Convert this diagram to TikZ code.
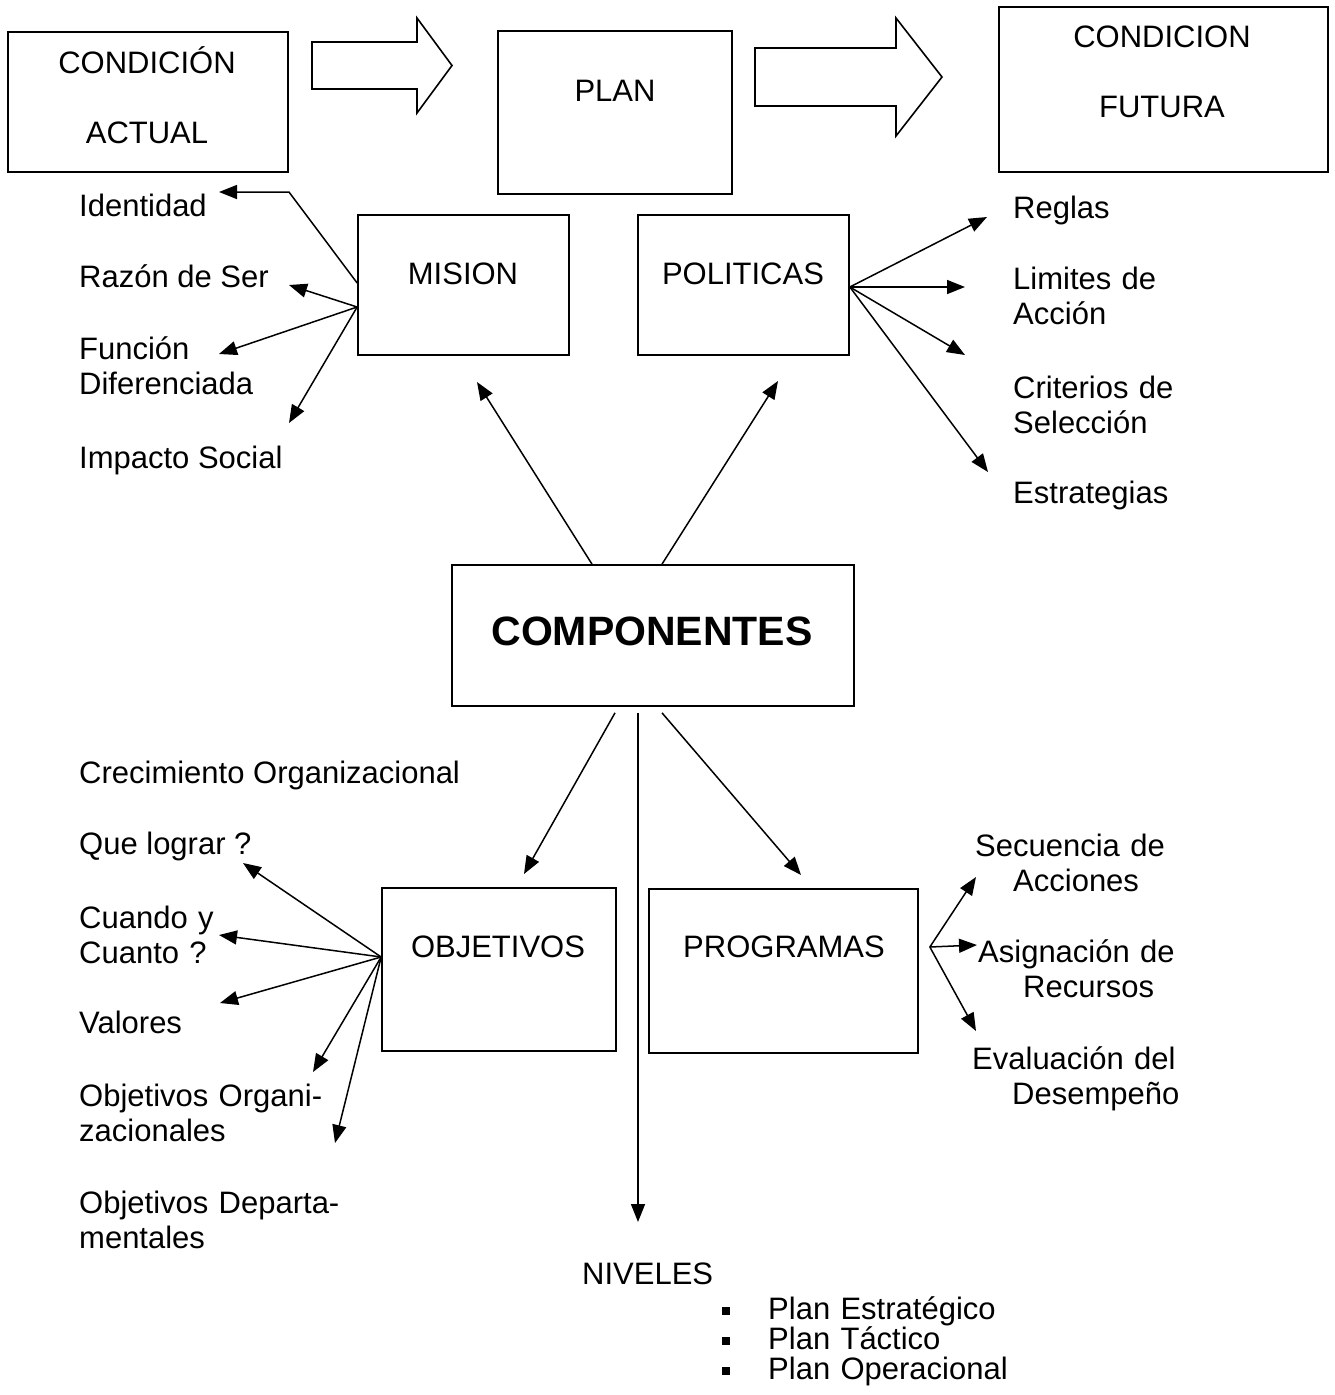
\documentclass[tikz,border=0pt]{standalone}
\usepackage{fontspec}
\setmainfont{Liberation Sans}
\usetikzlibrary{arrows.meta}
\begin{document}
\begin{tikzpicture}[x=1pt,y=-1pt,
  box/.style={draw,line width=1.7pt,inner sep=0pt},
  txt/.style={inner sep=0pt,font=\fontsize{31}{35}\selectfont},
  mtxt/.style={txt,text width=#1,align=left},
  ctxt/.style={inner sep=0pt,font=\fontsize{31}{70}\selectfont,text width=#1,align=center},
  con/.style={line width=1.5pt,-{Triangle[length=18pt,width=14pt]}},
  blk/.style={draw,line width=1.6pt,line join=miter,fill=white},
  bul/.style={txt,text width=330pt,align=left,font=\fontsize{31}{30}\selectfont}
]
\fill[white] (0,0) rectangle (1335,1395);
\useasboundingbox (0,0) rectangle (1335,1395);

% --- top row: current condition -> plan -> future condition
\node[box,minimum width=280pt,minimum height=140pt] (actual) at (148,102) {};
\node[ctxt=300pt,anchor=base] (actual-t) at (147,73) {CONDICIÓN\\ACTUAL};
\node[box,minimum width=234pt,minimum height=163pt] (plan) at (615,112.5) {};
\node[txt,anchor=base] (plan-t) at (615,101) {PLAN};
\node[box,minimum width=329pt,minimum height=165pt] (futura) at (1163.5,89.5) {};
\node[ctxt=320pt,anchor=base] (futura-t) at (1162,47) {CONDICION\\FUTURA};

\draw[blk] (312,42) -- (417,42) -- (417,18) -- (452,65.5) -- (417,113) -- (417,89) -- (312,89) -- cycle;
\draw[blk] (755,48) -- (896,48) -- (896,18) -- (942,77) -- (896,136) -- (896,106) -- (755,106) -- cycle;

% --- component boxes
\node[box,minimum width=211pt,minimum height=140pt] (mision) at (463.5,285) {};
\node[txt,anchor=base] (mision-t) at (463,284) {MISION};
\node[box,minimum width=211pt,minimum height=140pt] (politicas) at (743.5,285) {};
\node[txt,anchor=base] (politicas-t) at (743,284) {POLITICAS};
\node[box,minimum width=402pt,minimum height=141pt] (comp) at (653,635.5) {};
\node[inner sep=0pt,font=\fontsize{41}{48}\selectfont\bfseries,anchor=base] (comp-t) at (652,645) {COMPONENTES};
\node[box,minimum width=234pt,minimum height=163pt] (objetivos) at (499,969.5) {};
\node[txt,anchor=base] (objetivos-t) at (498,957) {OBJETIVOS};
\node[box,minimum width=269pt,minimum height=164pt] (programas) at (783.5,971) {};
\node[txt,anchor=base] (programas-t) at (784,957) {PROGRAMAS};

% --- mission items
\node[txt,anchor=base west] (identidad) at (79,216) {Identidad};
\node[txt,anchor=base west] (razon) at (79,287) {Razón de Ser};
\node[mtxt=260pt,anchor=base west] (funcion) at (79,359) {Función\\Diferenciada};
\node[txt,anchor=base west] (impacto) at (79,468) {Impacto Social};

\coordinate (id-bend) at (289,192);
\coordinate (id-end) at (219,192);
\coordinate (razon-end) at (289,285);
\coordinate (funcion-end) at (219,354);
\coordinate (impacto-end) at (289,423);
\coordinate (mis-out) at ([yshift=-22pt]mision.west);
\draw[con] ([yshift=2pt]mision.west) -- (id-bend) -- (id-end);
\draw[con] (mis-out) -- (razon-end);
\draw[con] (mis-out) -- (funcion-end);
\draw[con] (mis-out) -- (impacto-end);

% --- policy items
\node[txt,anchor=base west] (reglas) at (1013,218) {Reglas};
\node[mtxt=260pt,anchor=base west] (limites) at (1013,289) {Limites de\\Acción};
\node[mtxt=260pt,anchor=base west] (criterios) at (1013,398) {Criterios de\\Selección};
\node[txt,anchor=base west] (estrategias) at (1013,503) {Estrategias};

\coordinate (pol-out) at ([yshift=-2pt]politicas.east);
\coordinate (reglas-end) at (987,217);
\coordinate (limites-end) at (965,287);
\coordinate (criterios-end) at (965,355);
\coordinate (estrategias-end) at (988,472);
\draw[con] (pol-out) -- (reglas-end);
\draw[con] (pol-out) -- (limites-end);
\draw[con] (pol-out) -- (criterios-end);
\draw[con] (pol-out) -- (estrategias-end);

% --- links from the central box
\coordinate (mis-in) at (477,382);
\coordinate (pol-in) at (778,381);
\coordinate (obj-in) at (524,874);
\coordinate (prog-in) at (801,875);
\coordinate (niv-in) at (638,1222);
\draw[con] ([xshift=-61pt]comp.north) -- (mis-in);
\draw[con] ([xshift=9pt]comp.north) -- (pol-in);
\draw[con] ([xshift=-38pt,yshift=-6pt]comp.south) -- (obj-in);
\draw[con] ([xshift=-15pt,yshift=-6pt]comp.south) -- (niv-in);
\draw[con] ([xshift=9pt,yshift=-6pt]comp.south) -- (prog-in);

% --- objective items
\node[txt,anchor=base west] (crecimiento) at (79,783) {Crecimiento Organizacional};
\node[txt,anchor=base west] (lograr) at (79,854) {Que lograr ?};
\node[mtxt=260pt,anchor=base west] (cuando) at (79,928) {Cuando y\\Cuanto ?};
\node[txt,anchor=base west] (valores) at (79,1033) {Valores};
\node[mtxt=320pt,anchor=base west] (objorg) at (79,1106) {Objetivos Organi-\\zacionales};
\node[mtxt=320pt,anchor=base west] (objdep) at (79,1213) {Objetivos Departa-\\mentales};

\coordinate (obj-out) at ([yshift=12.5pt]objetivos.west);
\coordinate (lograr-end) at (243,863);
\coordinate (cuando-end) at (219,935);
\coordinate (valores-end) at (220,1003);
\coordinate (objorg-end) at (313,1072);
\coordinate (objdep-end) at (335,1143);
\draw[con] (obj-out) -- (lograr-end);
\draw[con] (obj-out) -- (cuando-end);
\draw[con] (obj-out) -- (valores-end);
\draw[con] (obj-out) -- (objorg-end);
\draw[con] (obj-out) -- (objdep-end);

% --- programme items
\node[mtxt=260pt,anchor=base west] (secuencia) at (975,856) {Secuencia de\\\hspace*{38pt}Acciones};
\node[mtxt=260pt,anchor=base west] (asignacion) at (978,962) {Asignación de\\\hspace*{45pt}Recursos};
\node[mtxt=260pt,anchor=base west] (evaluacion) at (972,1069) {Evaluación del\\\hspace*{40pt}Desempeño};

\coordinate (prog-out) at ([xshift=11pt,yshift=24pt]programas.east);
\coordinate (secuencia-end) at (976,877);
\coordinate (asignacion-end) at (977,945);
\coordinate (evaluacion-end) at (976,1031);
\draw[con] (prog-out) -- (secuencia-end);
\draw[con] (prog-out) -- (asignacion-end);
\draw[con] (prog-out) -- (evaluacion-end);

% --- planning levels
\node[txt,anchor=base west] (niveles) at (582,1284) {NIVELES};
\node[bul,anchor=base west] (lista) at (722,1319) {%
  \rule[4pt]{8pt}{8pt}\hspace*{38pt}Plan Estratégico\\
  \rule[4pt]{8pt}{8pt}\hspace*{38pt}Plan Táctico\\
  \rule[4pt]{8pt}{8pt}\hspace*{38pt}Plan Operacional};
\end{tikzpicture}
\end{document}
